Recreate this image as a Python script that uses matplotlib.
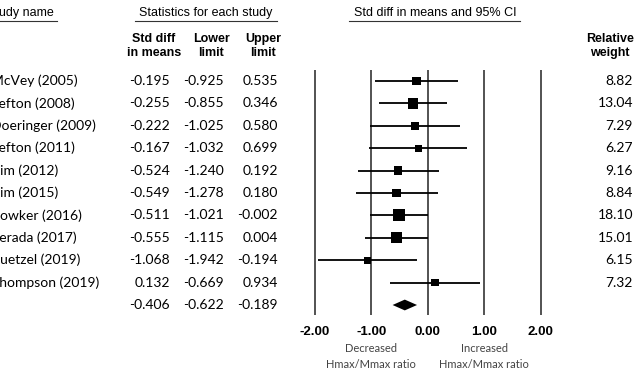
import matplotlib
matplotlib.use("Agg")
import matplotlib.pyplot as plt
import numpy as np

# data
studies = ["McVey (2005)", "Sefton (2008)", "Doeringer (2009)", "Sefton (2011)",
           "Kim (2012)", "Kim (2015)", "Bowker (2016)", "Terada (2017)",
           "Kuetzel (2019)", "Thompson (2019)"]
smd = [-0.195, -0.255, -0.222, -0.167, -0.524, -0.549, -0.511, -0.555, -1.068, 0.132]
lower = [-0.925, -0.855, -1.025, -1.032, -1.240, -1.278, -1.021, -1.115, -1.942, -0.669]
upper = [0.535, 0.346, 0.580, 0.699, 0.192, 0.180, -0.002, 0.004, -0.194, 0.934]
weights = [8.82, 13.04, 7.29, 6.27, 9.16, 8.84, 18.10, 15.01, 6.15, 7.32]
pooled = [-0.406, -0.622, -0.189]
ticks = [-2.0, -1.0, 0.0, 1.0, 2.0]

W, H = 635, 373
X0_PX, PX_PER_UNIT = 427.7, 56.45  # pixel of 0.00 and scale


def px(p):
    # pixel x -> data x
    return (p - X0_PX) / PX_PER_UNIT


fig = plt.figure(figsize=(W / 100, H / 100), dpi=100)
ax = fig.add_axes([0, 0, 1, 1])
ax.set_xlim(px(0), px(W))
ax.set_ylim(H, 0)
ax.axis("off")

num_font = "Lato"
arial = "Liberation Sans"
row_y = 81 + 22.4 * np.arange(len(studies) + 1)

# headers
ax.text(px(-13), 13, "Study name", family=arial, fontsize=9, va="center", ha="left")
ax.plot([px(-13), px(57)], [20.5, 20.5], color="#333333", lw=0.8)
ax.text(px(206), 13, "Statistics for each study", family=arial, fontsize=9, va="center", ha="center")
ax.plot([px(135), px(277)], [20.5, 20.5], color="#333333", lw=0.8)
ax.text(px(435), 13, "Std diff in means and 95% CI", family=arial, fontsize=9, va="center", ha="center")
ax.plot([px(349), px(520)], [20.5, 20.5], color="#333333", lw=0.8)

for cx, lines in [(154, ("Std diff", "in means")), (211, ("Lower", "limit")),
                  (263, ("Upper", "limit")), (610, ("Relative", "weight"))]:
    ax.text(px(cx), 39, lines[0], family=arial, fontsize=9, weight="bold", va="center", ha="center")
    ax.text(px(cx), 53, lines[1], family=arial, fontsize=9, weight="bold", va="center", ha="center")

# study rows
for i, name in enumerate(studies):
    y = row_y[i]
    ax.text(px(-9), y, name, family=num_font, fontsize=10, va="center", ha="left")
    ax.text(px(170), y, f"{smd[i]:.3f}", family=num_font, fontsize=10, va="center", ha="right")
    ax.text(px(224), y, f"{lower[i]:.3f}", family=num_font, fontsize=10, va="center", ha="right")
    ax.text(px(278), y, f"{upper[i]:.3f}", family=num_font, fontsize=10, va="center", ha="right")
    ax.text(px(633), y, f"{weights[i]:.2f}", family=num_font, fontsize=10, va="center", ha="right")

ys = row_y[-1]
for col, v in zip((170, 224, 278), pooled):
    ax.text(px(col), ys, f"{v:.3f}", family=num_font, fontsize=10, va="center", ha="right")

# forest plot
ax.vlines(ticks, 70, 315, color="#444444", lw=1.3)
ax.hlines(row_y[:-1], lower, upper, color="black", lw=1.3)
ax.scatter(smd, row_y[:-1], s=4.2 * np.array(weights), marker="s", color="black", linewidths=0, zorder=3)
ax.fill([pooled[1], pooled[0], pooled[2], pooled[0]], [ys, ys - 5.4, ys, ys + 5.4], color="black", lw=0)

for t in ticks:
    ax.text(t, 332, f"{t:.2f}", family=arial, fontsize=9.5, weight="bold", va="center", ha="center")
for x, word in ((-1.0, "Decreased"), (1.0, "Increased")):
    ax.text(x, 349, word, family=num_font, fontsize=8, color="#444444", va="center", ha="center")
    ax.text(x, 364, "Hmax/Mmax ratio", family=num_font, fontsize=8, color="#444444", va="center", ha="center")

fig.savefig("out.png", dpi=100)
